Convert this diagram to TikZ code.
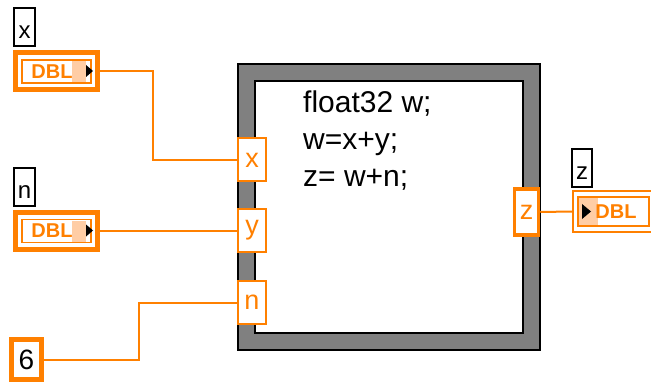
\documentclass[tikz,border=0pt]{standalone}
\usepackage{fontspec}
\setmainfont{Liberation Sans}
\definecolor{lvorange}{RGB}{255,128,0}
\definecolor{lvshade}{RGB}{255,205,165}
\definecolor{lvgray}{RGB}{128,128,128}
\begin{document}
\begin{tikzpicture}[x=1pt,y=-1pt,
  wire/.style={draw=lvorange,line width=2pt},
  tunnel/.style={draw=lvorange,fill=white,line width=2pt,minimum width=28pt,minimum height=43pt,inner sep=0pt,text=lvorange,font=\fontsize{27}{27}\selectfont},
  outtunnel/.style={draw=lvorange,fill=white,line width=3.5pt,minimum width=24pt,minimum height=46pt,inner sep=0pt,text=lvorange,font=\fontsize{27}{27}\selectfont},
  ctrl/.style={draw=lvorange,fill=white,line width=5pt,minimum width=82pt,minimum height=37pt,inner sep=0pt},
  inner/.style={draw=lvorange,line width=1.5pt},
  dbl/.style={text=lvorange,font=\bfseries\fontsize{20}{20}\selectfont,inner sep=0pt},
  lbl/.style={draw=black,line width=1.8pt,fill=white,minimum width=21pt,minimum height=38pt,inner sep=0pt,font=\fontsize{24}{24}\selectfont},
  code/.style={anchor=base west,inner sep=0pt,font=\fontsize{30}{30}\selectfont}]
\useasboundingbox (0,0) rectangle (651,385);
% structure frame
\fill[lvgray] (238,64) rectangle (540,350);
\fill[white] (255,81) rectangle (523,333);
\draw[black,line width=1.5pt] (238,64) rectangle (540,350);
\draw[black,line width=1.5pt] (255,81) rectangle (523,333);
% code
\node[code] (code1) at (303,113) {float32 w;};
\node[code] (code2) at (303,150) {w=x+y;};
\node[code] (code3) at (303,186) {z= w+n;};
% tunnels
\node[tunnel] (tx) at (252,160) {x};
\node[tunnel] (ty) at (252,230.5) {y};
\node[tunnel] (tn) at (252,302.5) {n};
\node[outtunnel] (tz) at (526.5,212) {z};
% control x
\node[lbl] (lx) at (24.5,27) {};
\node[anchor=base,inner sep=0pt,font=\fontsize{24}{24}\selectfont] (lxt) at (24.5,39) {x};
\node[ctrl] (cx) at (56.5,71) {};
\fill[lvshade] (72,61) rectangle (86,82);
\draw[inner] (22,60) rectangle (91,83);
\node[dbl] (cxd) at (52,71.5) {DBL};
\fill[black] (86,65) -- (93,71) -- (86,77) -- cycle;
% control n
\node[lbl] (ln) at (24.5,187) {};
\node[anchor=base,inner sep=0pt,font=\fontsize{24}{24}\selectfont] (lnt) at (24.5,199) {n};
\node[ctrl] (cn) at (56.5,230.5) {};
\fill[lvshade] (72,220.5) rectangle (86,241.5);
\draw[inner] (22,219.5) rectangle (91,242.5);
\node[dbl] (cnd) at (52,231) {DBL};
\fill[black] (86,224.5) -- (93,230.5) -- (86,236.5) -- cycle;
% constant 6
\node[draw=lvorange,fill=white,line width=5pt,minimum width=30pt,minimum height=40pt,inner sep=0pt,font=\fontsize{28}{28}\selectfont] (c6) at (26.5,359.5) {6};
% indicator z
\node[lbl,minimum width=20pt] (lz) at (582,168) {};
\node[anchor=base,inner sep=0pt,font=\fontsize{24}{24}\selectfont] (lzt) at (582,180) {z};
\node[draw=lvorange,fill=white,line width=2pt,minimum width=80pt,minimum height=40pt,inner sep=0pt] (iz) at (613,211.5) {};
\fill[lvshade] (579,198) rectangle (598,225);
\draw[inner] (578,197) rectangle (649,226);
\fill[black] (582,204) -- (591,211.5) -- (582,219) -- cycle;
\node[dbl] (izd) at (616,212) {DBL};
% wires
\draw[wire] (cx.east) -- (153,71) |- (tx.west);
\draw[wire] (cn.east) -- (ty.west);
\draw[wire] (c6.east) -- (139,359.5) |- (tn.west);
\draw[wire] (tz.east) -- (iz.west);
\end{tikzpicture}
\end{document}
